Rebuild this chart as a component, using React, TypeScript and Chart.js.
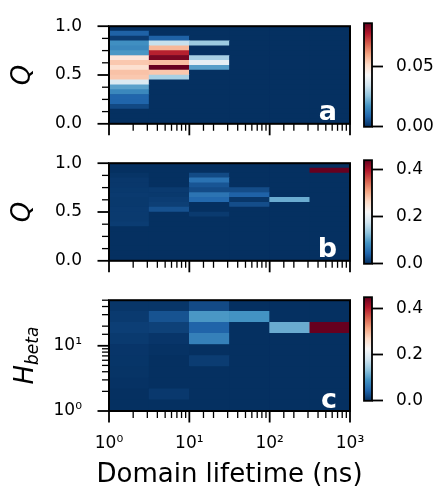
import { useEffect, useRef } from 'react';
import { Chart, registerables } from 'chart.js';

Chart.register(...registerables);

const FONT = "'DejaVu Sans', 'Liberation Sans', sans-serif";
Chart.defaults.font.family = FONT;
Chart.defaults.color = '#000';

// ---- bins ----
const lifetimeEdges = [1, 3.1623, 10, 31.623, 100, 316.23, 1000];
// listed top -> bottom
const qEdges = [1.0, 0.95, 0.9, 0.85, 0.8, 0.75, 0.7, 0.65, 0.6, 0.55, 0.5, 0.45, 0.4, 0.35, 0.3, 0.25, 0.2, 0.15, 0.1, 0.05, 0.0];
const hBetaEdges = [50, 33.81, 22.87, 15.46, 10.46, 7.071, 4.782, 3.234, 2.187, 1.479, 1];

// ---- ticks / labels ----
const xTickValues = [1, 10, 100, 1000];
const xTickLabels = ['10⁰', '10¹', '10²', '10³'];
const hTickValues = [1, 10];
const hTickLabels = ['10⁰', '10¹'];
const qTicks = [0, 0.125, 0.25, 0.375, 0.5, 0.625, 0.75, 0.875, 1];
const qMajorTicks = [0, 0.5, 1];
const qTickLabels = ['0.0', '0.5', '1.0'];
const cbTicksA = [0, 0.05];
const cbLabelsA = ['0.00', '0.05'];
const cbTicksBC = [0, 0.2, 0.4];
const cbLabelsBC = ['0.0', '0.2', '0.4'];
const xTitle = 'Domain lifetime (ns)';

const vmaxA = 0.0866;
const vmaxB = 0.44;
const vmaxC = 0.45;

// ---- values: rows from top bin to bottom bin, columns = lifetime bins ----
const panelA = [
  [0, 0, 0, 0, 0, 0],
  [0.008, 0, 0, 0, 0, 0],
  [0.0018, 0.008, 0, 0, 0, 0],
  [0.0165, 0.0333, 0.0275, 0, 0, 0],
  [0.0152, 0.0577, 0, 0, 0, 0],
  [0.018, 0.077, 0, 0, 0, 0],
  [0.0488, 0.0846, 0.029, 0, 0, 0],
  [0.055, 0.0566, 0.039, 0, 0, 0],
  [0.0504, 0.0866, 0.0193, 0, 0, 0],
  [0.056, 0.0552, 0, 0, 0, 0],
  [0.055, 0.029, 0, 0, 0, 0],
  [0.0369, 0, 0, 0, 0, 0],
  [0.0198, 0, 0, 0, 0, 0],
  [0.0152, 0, 0, 0, 0, 0],
  [0.0087, 0, 0, 0, 0, 0],
  [0.0085, 0, 0, 0, 0, 0],
  [0.004, 0, 0, 0, 0, 0],
  [0, 0, 0, 0, 0, 0],
  [0, 0, 0, 0, 0, 0],
  [0, 0, 0, 0, 0, 0],
];

const panelB = [
  [0, 0, 0, 0, 0, 0],
  [0, 0, 0, 0, 0, 0.44],
  [0.003, 0, 0.021, 0, 0, 0],
  [0.006, 0, 0.056, 0, 0, 0],
  [0.006, 0, 0.03, 0, 0, 0],
  [0.007, 0.008, 0.022, 0.023, 0, 0],
  [0.008, 0.007, 0.058, 0.041, 0, 0],
  [0.007, 0.01, 0.047, 0.0045, 0.11, 0],
  [0.007, 0.012, 0, 0.024, 0, 0],
  [0.008, 0.027, 0, 0, 0, 0],
  [0.008, 0, 0.008, 0, 0, 0],
  [0.008, 0, 0, 0, 0, 0],
  [0.01, 0, 0, 0, 0, 0],
  [0, 0, 0, 0, 0, 0],
  [0, 0, 0, 0, 0, 0],
  [0, 0, 0, 0, 0, 0],
  [0, 0, 0, 0, 0, 0],
  [0, 0, 0, 0, 0, 0],
  [0, 0, 0, 0, 0, 0],
  [0, 0, 0, 0, 0, 0],
];

const panelC = [
  [0.005, 0.005, 0.022, 0, 0, 0],
  [0.0085, 0.029, 0.094, 0.09, 0, 0],
  [0.012, 0.014, 0.043, 0, 0.112, 0.45],
  [0.0085, 0.0045, 0.071, 0, 0, 0],
  [0.0045, 0.002, 0, 0, 0, 0],
  [0.004, 0, 0.01, 0, 0, 0],
  [0.003, 0, 0, 0, 0, 0],
  [0.002, 0, 0, 0, 0, 0],
  [0, 0.007, 0, 0, 0, 0],
  [0, 0, 0, 0, 0, 0],
];

// ---- colormap (RdBu_r) ----
const RDBU_R = [
  [5, 48, 97], [33, 102, 172], [67, 147, 195], [146, 197, 222], [209, 229, 240],
  [247, 247, 247], [253, 219, 199], [244, 165, 130], [214, 96, 77], [178, 24, 43], [103, 0, 31],
];
function cmap(t: number): string {
  const u = Math.max(0, Math.min(1, t)) * 10;
  const i = Math.min(9, Math.floor(u));
  const f = u - i;
  const a = RDBU_R[i], b = RDBU_R[i + 1];
  const c = [0, 1, 2].map((k) => Math.round(a[k] + (b[k] - a[k]) * f));
  return `rgb(${c[0]},${c[1]},${c[2]})`;
}

type Spec = {
  grid: number[][];
  rowEdges: number[];
  vmax: number;
  logY: boolean;
  letter: string;
  showX: boolean;
  xHeight: number;
};

function buildCells(spec: Spec) {
  const data: any[] = [];
  const colors: string[] = [];
  spec.grid.forEach((row, r) => {
    const hi = spec.rowEdges[r];
    const lo = spec.rowEdges[r + 1];
    const center = spec.logY ? (Math.log10(hi) + Math.log10(lo)) / 2 : (hi + lo) / 2;
    row.forEach((v, c) => {
      data.push({ x: [lifetimeEdges[c], lifetimeEdges[c + 1]], y: center });
      colors.push(cmap(v / spec.vmax));
    });
  });
  return { data, colors };
}

function heatDecor(spec: Spec) {
  return {
    id: 'heatDecor',
    beforeDatasetsDraw(chart: any) {
      const { ctx, chartArea: a } = chart;
      ctx.save();
      ctx.fillStyle = cmap(0);
      ctx.fillRect(a.left, a.top, a.right - a.left, a.bottom - a.top);
      ctx.restore();
    },
    afterDraw(chart: any) {
      const { ctx, chartArea: a } = chart;
      const xs = chart.scales.x;
      const ys = chart.scales.y;
      ctx.save();
      ctx.strokeStyle = '#000';
      ctx.lineCap = 'butt';
      xs.ticks.forEach((t: any) => {
        const major = xTickValues.includes(t.value);
        const px = xs.getPixelForValue(t.value);
        ctx.lineWidth = major ? 1.8 : 1.3;
        ctx.beginPath();
        ctx.moveTo(px, a.bottom);
        ctx.lineTo(px, a.bottom + (major ? 11.5 : 7));
        ctx.stroke();
      });
      ys.ticks.forEach((t: any) => {
        const major = spec.logY ? hTickValues.includes(t.value) : qMajorTicks.includes(t.value);
        const py = ys.getPixelForValue(t.value);
        ctx.lineWidth = major ? 1.8 : 1.3;
        ctx.beginPath();
        ctx.moveTo(a.left, py);
        ctx.lineTo(a.left - (major ? 11.5 : 7), py);
        ctx.stroke();
      });
      ctx.lineWidth = 2;
      ctx.strokeRect(a.left, a.top, a.right - a.left, a.bottom - a.top);
      ctx.fillStyle = '#fff';
      ctx.font = `bold 27px ${FONT}`;
      ctx.textAlign = 'right';
      ctx.textBaseline = 'alphabetic';
      ctx.fillText(spec.letter, a.right - 13, a.bottom - 3.5);
      if (spec.showX) {
        ctx.fillStyle = '#000';
        ctx.font = `26px ${FONT}`;
        ctx.textAlign = 'center';
        ctx.textBaseline = 'alphabetic';
        ctx.fillText(xTitle, (a.left + a.right) / 2, a.bottom + 71);
      }
      if (spec.logY) {
        ctx.fillStyle = '#000';
        ctx.translate(33, (a.top + a.bottom) / 2);
        ctx.rotate(-Math.PI / 2);
        ctx.font = `italic 26px ${FONT}`;
        const wH = ctx.measureText('H').width;
        ctx.font = `italic 17px ${FONT}`;
        const wB = ctx.measureText('beta').width;
        const x0 = -(wH + wB) / 2;
        ctx.textAlign = 'left';
        ctx.font = `italic 26px ${FONT}`;
        ctx.fillText('H', x0, 0);
        ctx.font = `italic 17px ${FONT}`;
        ctx.fillText('beta', x0 + wH, 5);
      }
      ctx.restore();
    },
  };
}

function makeHeat(canvas: HTMLCanvasElement, spec: Spec) {
  const { data, colors } = buildCells(spec);
  const yScale = spec.logY
    ? {
        type: 'logarithmic',
        axis: 'y',
        position: 'left',
        min: 1,
        max: 50,
        offset: false,
        afterFit: (s: any) => { s.width = 109; },
        grid: { display: true, drawOnChartArea: false, drawTicks: true, tickLength: 11, color: 'rgba(0,0,0,0)', offset: false },
        border: { display: false },
        ticks: {
          autoSkip: false,
          padding: 16,
          font: { size: 17 },
          color: '#000',
          callback: (v: any) => { const i = hTickValues.indexOf(Number(v)); return i >= 0 ? hTickLabels[i] : ''; },
        },
      }
    : {
        type: 'linear',
        axis: 'y',
        position: 'left',
        min: 0,
        max: 1,
        offset: false,
        afterFit: (s: any) => { s.width = 109; },
        afterBuildTicks: (s: any) => { s.ticks = qTicks.map((v) => ({ value: v })); },
        grid: { display: true, drawOnChartArea: false, drawTicks: true, tickLength: 11, color: 'rgba(0,0,0,0)', offset: false },
        border: { display: false },
        title: { display: true, text: 'Q', font: { size: 26, style: 'italic' }, color: '#000', padding: { top: 8, bottom: 0 } },
        ticks: {
          autoSkip: false,
          padding: 16,
          font: { size: 17 },
          color: '#000',
          callback: (v: any) => { const i = qMajorTicks.indexOf(Number(v)); return i >= 0 ? qTickLabels[i] : ''; },
        },
      };
  return new Chart(canvas, {
    type: 'bar',
    data: {
      datasets: [{
        data,
        backgroundColor: colors,
        borderWidth: 0,
        barPercentage: 1,
        categoryPercentage: 1,
        xAxisID: 'x',
        yAxisID: 'yi',
      } as any],
    },
    options: {
      indexAxis: 'y',
      responsive: false,
      animation: false,
      layout: { padding: { top: 21, right: 30, left: 0, bottom: 0 } },
      plugins: { legend: { display: false }, tooltip: { enabled: false } },
      scales: {
        x: {
          type: 'logarithmic',
          axis: 'x',
          position: 'bottom',
          min: 1,
          max: 1000,
          beginAtZero: false,
          afterFit: (s: any) => { s.height = spec.xHeight; },
          grid: { display: true, drawOnChartArea: false, drawTicks: true, tickLength: 11, color: 'rgba(0,0,0,0)' },
          border: { display: false },
          ticks: {
            display: spec.showX,
            autoSkip: false,
            maxRotation: 0,
            padding: 11,
            font: { size: 17 },
            color: '#000',
            callback: (v: any) => { const i = xTickValues.indexOf(Number(v)); return i >= 0 ? xTickLabels[i] : ''; },
          },
        },
        yi: {
          type: 'linear',
          axis: 'y',
          display: false,
          min: 0,
          max: spec.logY ? Math.log10(hBetaEdges[0]) : 1,
          offset: false,
          afterBuildTicks: (s: any) => { s.ticks = [{ value: s.min }]; },
        },
        y: yScale,
      } as any,
    } as any,
    plugins: [heatDecor(spec)],
  } as any);
}

const cbFrame = {
  id: 'cbFrame',
  afterDraw(chart: any) {
    const { ctx, chartArea: a } = chart;
    ctx.save();
    ctx.strokeStyle = '#000';
    ctx.lineWidth = 1.8;
    ctx.strokeRect(a.left, a.top, a.right - a.left, a.bottom - a.top);
    ctx.restore();
  },
};

function makeColorbar(canvas: HTMLCanvasElement, vmax: number, ticks: number[], labels: string[], padBottom: number) {
  return new Chart(canvas, {
    type: 'bar',
    data: {
      labels: ['colorbar'],
      datasets: [{
        data: [vmax],
        borderWidth: 0,
        barPercentage: 1,
        categoryPercentage: 1,
        backgroundColor: (c: any) => {
          const a = c.chart.chartArea;
          if (!a) return cmap(0);
          const g = c.chart.ctx.createLinearGradient(0, a.bottom, 0, a.top);
          RDBU_R.forEach((col, i) => g.addColorStop(i / 10, `rgb(${col[0]},${col[1]},${col[2]})`));
          return g;
        },
      } as any],
    },
    options: {
      responsive: false,
      animation: false,
      layout: { padding: { top: 21, left: 8, right: 0, bottom: padBottom } },
      plugins: { legend: { display: false }, tooltip: { enabled: false } },
      scales: {
        x: { display: false },
        y: {
          position: 'right',
          min: 0,
          max: vmax,
          afterFit: (s: any) => { s.width = 70; },
          afterBuildTicks: (s: any) => { s.ticks = ticks.map((v) => ({ value: v })); },
          grid: { drawOnChartArea: false, tickLength: 11, tickWidth: 1.8, tickColor: '#000' },
          border: { display: false },
          ticks: {
            padding: 13,
            color: '#000',
            font: { size: 17 },
            callback: (v: any) => { const i = ticks.indexOf(Number(v)); return i >= 0 ? labels[i] : ''; },
          },
        },
      } as any,
    } as any,
    plugins: [cbFrame],
  } as any);
}

export default function App() {
  const hA = useRef<HTMLCanvasElement>(null);
  const hB = useRef<HTMLCanvasElement>(null);
  const hC = useRef<HTMLCanvasElement>(null);
  const cA = useRef<HTMLCanvasElement>(null);
  const cB = useRef<HTMLCanvasElement>(null);
  const cC = useRef<HTMLCanvasElement>(null);

  useEffect(() => {
    const charts: Chart[] = [];
    charts.push(makeHeat(hA.current!, { grid: panelA, rowEdges: qEdges, vmax: vmaxA, logY: false, letter: 'a', showX: false, xHeight: 14 }));
    charts.push(makeHeat(hB.current!, { grid: panelB, rowEdges: qEdges, vmax: vmaxB, logY: false, letter: 'b', showX: false, xHeight: 14 }));
    charts.push(makeHeat(hC.current!, { grid: panelC, rowEdges: hBetaEdges, vmax: vmaxC, logY: true, letter: 'c', showX: true, xHeight: 76 }));
    charts.push(makeColorbar(cA.current!, vmaxA, cbTicksA, cbLabelsA, 14));
    charts.push(makeColorbar(cB.current!, vmaxB, cbTicksBC, cbLabelsBC, 14));
    charts.push(makeColorbar(cC.current!, vmaxC, cbTicksBC, cbLabelsBC, 13));
    return () => charts.forEach((c) => c.destroy());
  }, []);

  const abs = (left: number, top: number) => ({ position: 'absolute' as const, left, top });
  return (
    <div style={{ position: 'absolute', left: 0, top: 0, width: 442, height: 487, overflow: 'hidden', background: '#fff' }}>
      <canvas ref={hA} width={380} height={150} style={abs(0, 0)} />
      <canvas ref={hB} width={380} height={150} style={abs(0, 137)} />
      <canvas ref={hC} width={380} height={213} style={abs(0, 274)} />
      <canvas ref={cA} width={86} height={150} style={abs(356, 0)} />
      <canvas ref={cB} width={86} height={150} style={abs(356, 137)} />
      <canvas ref={cC} width={86} height={150} style={abs(356, 274)} />
    </div>
  );
}
